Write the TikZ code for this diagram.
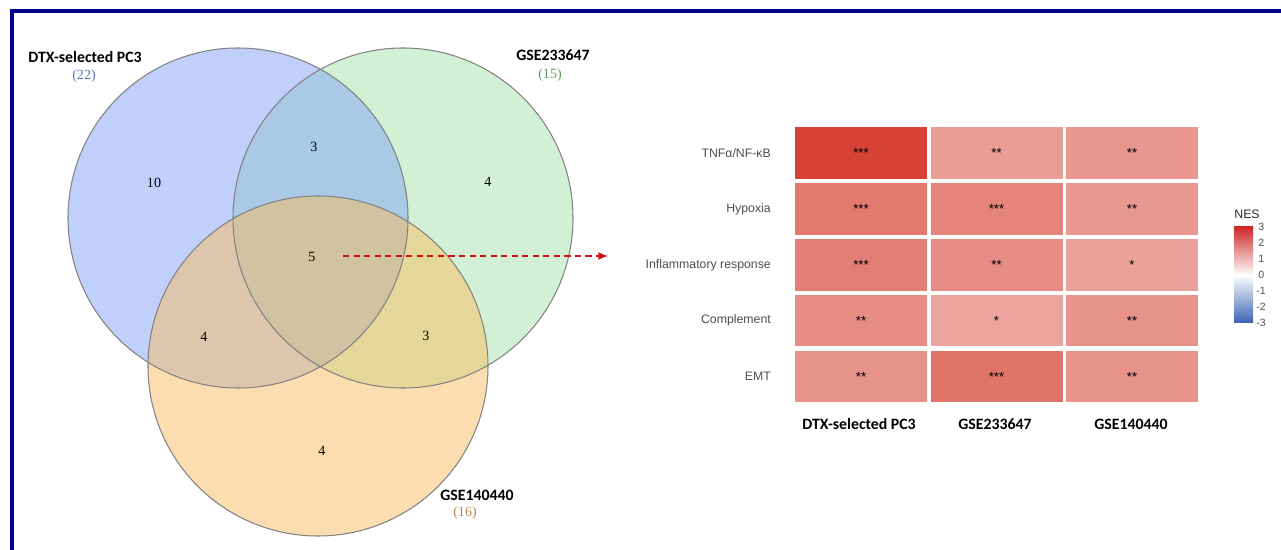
\documentclass[tikz,border=0pt]{standalone}
\usepackage{fontspec}
\setmainfont{Liberation Serif}
\newfontfamily\lblfont{Carlito}
\newfontfamily\axfont{Liberation Sans}
\usetikzlibrary{arrows.meta}
\definecolor{framblue}{RGB}{0,0,140}
\definecolor{circgray}{RGB}{130,130,130}
\definecolor{setblue}{RGB}{130,162,245}
\definecolor{setgreen}{RGB}{164,226,170}
\definecolor{setorange}{RGB}{250,188,96}
\definecolor{numblue}{RGB}{90,120,185}
\definecolor{numgreen}{RGB}{95,155,100}
\definecolor{numorange}{RGB}{185,135,75}
\definecolor{arrred}{RGB}{205,20,20}
\definecolor{nesred}{RGB}{210,50,35}
\definecolor{nestop}{RGB}{205,40,40}
\definecolor{nesblue}{RGB}{58,100,180}
\definecolor{axgray}{RGB}{77,77,77}
\tikzset{
  setname/.style={font=\lblfont\bfseries\fontsize{9}{10}\selectfont},
  cnt/.style={font=\fontsize{8}{9}\selectfont},
  cell/.style={minimum width=2.64cm,minimum height=1.04cm,inner sep=0pt,outer sep=0pt,
    font=\axfont\fontsize{7.5}{8}\selectfont},
  rowlab/.style={anchor=east,text=axgray,font=\axfont\fontsize{7}{8}\selectfont},
  ticklab/.style={anchor=west,text=axgray,inner sep=0pt,font=\axfont\fontsize{6}{7}\selectfont}
}
\begin{document}
\begin{tikzpicture}[x=0.02cm,y=-0.02cm]
    \useasboundingbox (0,0) rectangle (1281,550);
    \draw[framblue,line width=2.3pt] (12,550) -- (12,11) -- (1281,11);
    % venn
    \fill[setgreen,fill opacity=0.5] (403,218) circle (170);
    \fill[setblue,fill opacity=0.5] (238,218) circle (170);
    \fill[setorange,fill opacity=0.5] (318,366) circle (170);
    \draw[circgray,line width=0.6pt] (238,218) circle (170) (403,218) circle (170) (318,366) circle (170);
    \node[setname] (dtx) at (85,57) {DTX-selected PC3};
    \node[cnt,text=numblue] (dtxn) at (84,76) {(22)};
    \node[setname] (gsea) at (553,55) {GSE233647};
    \node[cnt,text=numgreen] (gsean) at (550,75) {(15)};
    \node[setname] (gseb) at (477,495) {GSE140440};
    \node[cnt,text=numorange] (gsebn) at (465,513) {(16)};
    \node[cnt] (only1) at (154,183) {10};
    \node[cnt] (ab) at (314,147) {3};
    \node[cnt] (only2) at (488,182) {4};
    \node[cnt] (abc) at (312,257) {5};
    \node[cnt] (ac) at (204,337) {4};
    \node[cnt] (bc) at (426,336) {3};
    \node[cnt] (only3) at (322,451) {4};
    \coordinate (arrS) at (343,256);
    \coordinate (arrE) at (608,256);
    \draw[arrred,line width=0.8pt,dash pattern=on 3.5pt off 2.5pt,-{Latex[length=5.5pt,width=4.5pt]}] (arrS) -- (arrE);
    % heatmap
    \node[cell,fill=nesred!92!white] (c11) at (861,153) {***};
    \node[cell,fill=nesred!48!white] (c12) at (996.5,153) {**};
    \node[cell,fill=nesred!51!white] (c13) at (1132,153) {**};
    \node[cell,fill=nesred!65!white] (c21) at (861,209) {***};
    \node[cell,fill=nesred!60!white] (c22) at (996.5,209) {***};
    \node[cell,fill=nesred!50!white] (c23) at (1132,209) {**};
    \node[cell,fill=nesred!63!white] (c31) at (861,265) {***};
    \node[cell,fill=nesred!56!white] (c32) at (996.5,265) {**};
    \node[cell,fill=nesred!46!white] (c33) at (1132,265) {*};
    \node[cell,fill=nesred!56!white] (c41) at (861,320.5) {**};
    \node[cell,fill=nesred!44!white] (c42) at (996.5,320.5) {*};
    \node[cell,fill=nesred!53!white] (c43) at (1132,320.5) {**};
    \node[cell,fill=nesred!53!white] (c51) at (861,376.5) {**};
    \node[cell,fill=nesred!68!white] (c52) at (996.5,376.5) {***};
    \node[cell,fill=nesred!53!white] (c53) at (1132,376.5) {**};
    \node[rowlab] (r1) at (777,153) {TNFα/NF-κB};
    \node[rowlab] (r2) at (777,209) {Hypoxia};
    \node[rowlab] (r3) at (777,265) {Inflammatory response};
    \node[rowlab] (r4) at (777,320.5) {Complement};
    \node[rowlab] (r5) at (777,376.5) {EMT};
    \node[setname] (col1) at (859,424) {DTX-selected PC3};
    \node[setname] (col2) at (995,424) {GSE233647};
    \node[setname] (col3) at (1131,424) {GSE140440};
    % legend
    \node[font=\axfont\fontsize{7}{8}\selectfont,text=black!85] (nes) at (1247,214) {NES};
    \shade[top color=nestop,bottom color=nesblue,middle color=white] (1234,227) rectangle (1253,323);
    \node[ticklab] (t3) at (1258,227) {3};
    \node[ticklab] (t2) at (1258,243) {2};
    \node[ticklab] (t1) at (1258,259) {1};
    \node[ticklab] (t0) at (1258,275) {0};
    \node[ticklab] (tm1) at (1256,291) {-1};
    \node[ticklab] (tm2) at (1256,307) {-2};
    \node[ticklab] (tm3) at (1256,323) {-3};
\end{tikzpicture}
\end{document}
